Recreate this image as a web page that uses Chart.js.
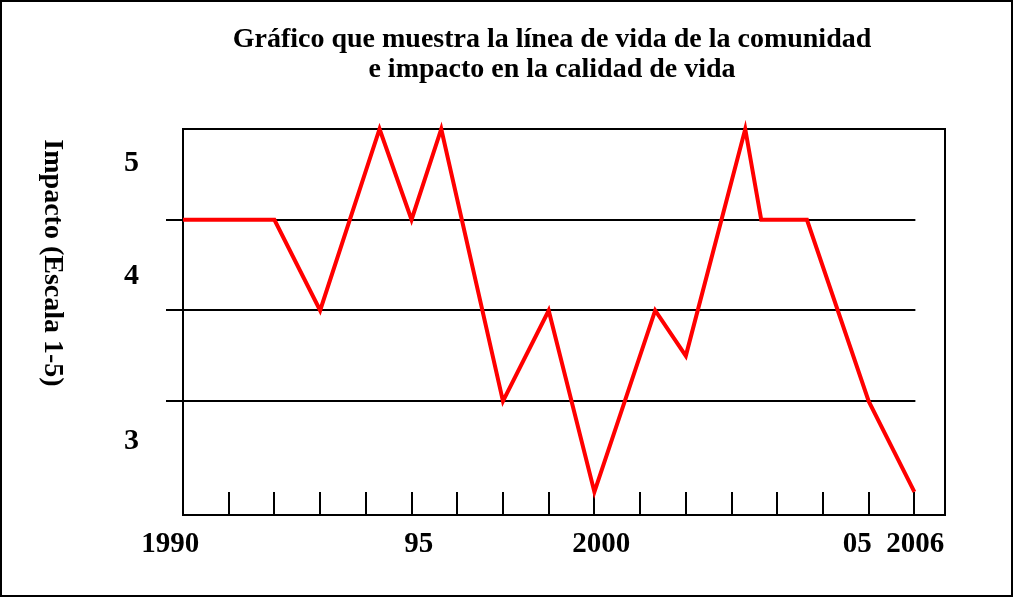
<!DOCTYPE html>
<html>
<head>
<meta charset="utf-8">
<script src="https://cdn.jsdelivr.net/npm/chart.js@4.4.1/dist/chart.umd.min.js"></script>
<style>
  html, body { margin: 0; padding: 0; background: #fff; }
  #wrap { width: 1013px; height: 597px; border: 2px solid #000; box-sizing: border-box; position: relative; }
  #box { width: 1009px; height: 593px; }
</style>
</head>
<body>
<div id="wrap"><div id="box"><canvas id="chart"></canvas></div></div>
<script>
// línea de vida (year, impact level)
const years  = [1990, 1992, 1993, 1994.3, 1995, 1995.65, 1997, 1998, 1999, 2000.33, 2001, 2002.3, 2002.65, 2003.65, 2005, 2006];
const impact = [4.5, 4.5, 4, 5, 4.5, 5, 3.5, 4, 3, 4, 3.75, 5, 4.5, 4.5, 3.5, 3];

// axis marks and labels as drawn in the original
const tickYears = [1990, 1991, 1992, 1993, 1994, 1995, 1996, 1997, 1998, 1999, 2000, 2001, 2002, 2003, 2004, 2005, 2006];
const refLevels = [3.5, 4, 4.5];
const xLabels   = ['1990', '95', '2000', '05', '2006'];
const xLabelAt  = [1989.72, 1995.16, 1999.15, 2004.75, 2006.02];
const yLabels   = ['5', '4', '3'];
const yLabelAt  = [4.81, 4.19, 3.28];

const title = ['Gráfico que muestra la línea de vida de la comunidad', 'e impacto en la calidad de vida'];
const yTitle = 'Impacto (Escala 1-5)';

const SERIF = "'Liberation Serif', 'DejaVu Serif', serif";

// box, reference lines, year ticks and the texts placed by hand in the original
const framePlugin = {
  id: 'frame',
  beforeDatasetsDraw(chart) {
    const { ctx, chartArea: a, scales: { x, y } } = chart;
    ctx.save();
    ctx.strokeStyle = '#000';
    ctx.lineWidth = 2;
    ctx.strokeRect(a.left, a.top, a.right - a.left, a.bottom - a.top);
    const xEnd = x.getPixelForValue(tickYears[tickYears.length - 1]) + 1;
    refLevels.forEach(v => {
      const py = Math.round(y.getPixelForValue(v));
      ctx.beginPath();
      ctx.moveTo(a.left - 17, py);
      ctx.lineTo(xEnd, py);
      ctx.stroke();
    });
    const yTop = y.getPixelForValue(3);
    tickYears.forEach(t => {
      const px = Math.round(x.getPixelForValue(t));
      ctx.beginPath();
      ctx.moveTo(px, yTop);
      ctx.lineTo(px, a.bottom);
      ctx.stroke();
    });
    ctx.restore();
  },
  afterDraw(chart) {
    const { ctx } = chart;
    ctx.save();
    ctx.fillStyle = '#000';
    ctx.textAlign = 'center';
    ctx.textBaseline = 'middle';
    // title
    ctx.font = 'bold 28px ' + SERIF;
    title.forEach((line, i) => ctx.fillText(line, 550, 38 + i * 30));
    // y axis title, reads top to bottom
    ctx.translate(50, 261);
    ctx.rotate(Math.PI / 2);
    ctx.font = 'bold 28px ' + SERIF;
    ctx.fillText(yTitle, 0, 0);
    ctx.restore();
  }
};

new Chart(document.getElementById('chart'), {
  type: 'line',
  data: {
    datasets: [{
      data: years.map((yr, i) => ({ x: yr, y: impact[i] })),
      borderColor: '#ff0000',
      borderWidth: 4,
      pointRadius: 0,
      tension: 0,
      clip: false
    }]
  },
  options: {
    responsive: true,
    maintainAspectRatio: false,
    animation: false,
    layout: { padding: { left: 0, right: 66, top: 127, bottom: 0 } },
    plugins: {
      legend: { display: false },
      tooltip: { enabled: false },
      title: { display: false }
    },
    scales: {
      x: {
        type: 'linear',
        min: 1990,
        max: 2006.67,
        grid: { display: false },
        border: { display: false },
        afterBuildTicks: s => { s.ticks = xLabelAt.map(v => ({ value: v })); },
        afterFit: s => { s.height = 80; },
        ticks: {
          autoSkip: false,
          maxRotation: 0,
          padding: 4,
          color: '#000',
          font: { family: SERIF, size: 29, weight: 'bold' },
          callback: (v, i) => xLabels[i]
        }
      },
      y: {
        min: 2.873,
        max: 5,
        grid: { display: false },
        border: { display: false },
        afterBuildTicks: s => { s.ticks = yLabelAt.map(v => ({ value: v })); },
        afterFit: s => { s.width = 181; },
        ticks: {
          autoSkip: false,
          padding: 36,
          color: '#000',
          font: { family: SERIF, size: 30, weight: 'bold' },
          callback: (v, i) => yLabels[i]
        }
      }
    }
  },
  plugins: [framePlugin]
});
</script>
</body>
</html>
